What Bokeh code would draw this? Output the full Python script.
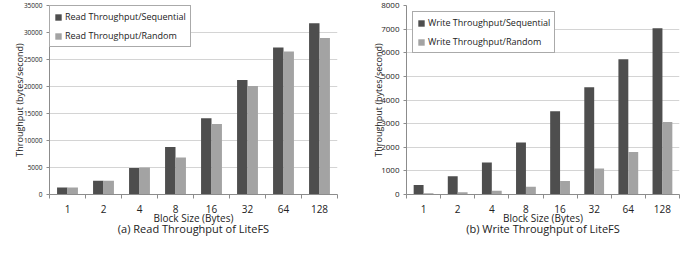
from bokeh.plotting import figure
from bokeh.models import ColumnDataSource, FixedTicker, LinearAxis, Legend, LegendItem
from bokeh.layouts import row
from bokeh.embed import file_html
from bokeh.resources import INLINE

block_sizes = ["1", "2", "4", "8", "16", "32", "64", "128"]
read_seq = [1300, 2550, 4900, 8800, 14100, 21200, 27200, 31700]
read_rand = [1300, 2550, 5000, 6850, 13050, 20100, 26500, 29000]
write_seq = [400, 770, 1350, 2200, 3520, 4540, 5730, 7040]
write_rand = [50, 90, 160, 330, 570, 1100, 1800, 3070]

DARK = "#4e4e4e"
LIGHT = "#a3a3a3"
FONT = "Open Sans"


def make_chart(seq, rand, ymax, ystep, width, left_border, names, caption,
               ylab_size, tick_size, ylab_standoff, leg_margin):
    n = len(block_sizes)
    centers = [i + 0.5 for i in range(n)]
    src = ColumnDataSource(dict(
        xs=[c - 0.145 for c in centers],
        xr=[c + 0.145 for c in centers],
        seq=seq, rand=rand))
    p = figure(width=width, height=238, x_range=(0, n), y_range=(0, ymax),
               output_backend="svg", toolbar_location=None,
               min_border_left=left_border, min_border_right=1,
               min_border_top=5, min_border_bottom=0)
    p.outline_line_color = None
    r1 = p.vbar(x="xs", top="seq", width=0.29, source=src, fill_color=DARK, line_color=None)
    r2 = p.vbar(x="xr", top="rand", width=0.29, source=src, fill_color=LIGHT, line_color=None)

    p.xgrid.visible = False
    p.ygrid.grid_line_color = "#d4d4d4"
    p.ygrid.grid_line_width = 1
    p.yaxis.ticker = FixedTicker(ticks=list(range(0, ymax + 1, ystep)))
    p.xaxis.ticker = FixedTicker(ticks=centers, minor_ticks=list(range(0, n + 1)))
    p.xaxis.major_label_overrides = {c: lab for c, lab in zip(centers, block_sizes)}

    for ax in (p.xaxis[0], p.yaxis[0]):
        ax.axis_line_color = "#8c8c8c"
        ax.major_tick_line_color = "#8c8c8c"
        ax.minor_tick_line_color = "#8c8c8c"
        ax.major_label_text_font = FONT
        ax.axis_label_text_font = FONT
        ax.axis_label_text_font_style = "normal"
        ax.major_label_text_color = "#222222"
        ax.axis_label_text_color = "#222222"
    p.xaxis.major_tick_out = 0
    p.xaxis.major_tick_in = 0
    p.xaxis.minor_tick_out = 4
    p.xaxis.minor_tick_in = 0
    p.xaxis.major_label_text_font_size = "10px"
    p.xaxis.major_label_standoff = 6
    p.xaxis.axis_label = "Block Size (Bytes)"
    p.xaxis.axis_label_text_font_size = "10px"
    p.xaxis.axis_label_standoff = -5

    p.yaxis.major_tick_out = 3
    p.yaxis.major_tick_in = 0
    p.yaxis.minor_tick_out = 0
    p.yaxis.minor_tick_in = 0
    p.yaxis.major_label_text_font_size = tick_size
    p.yaxis.major_label_standoff = 4
    p.yaxis.axis_label = "Throughput (bytes/second)"
    p.yaxis.axis_label_text_font_size = ylab_size
    p.yaxis.axis_label_standoff = ylab_standoff

    # caption drawn as the label of a bare extra axis below the chart
    cap = LinearAxis(ticker=FixedTicker(ticks=[]), axis_label=caption)
    cap.axis_line_color = None
    cap.major_tick_line_color = None
    cap.minor_tick_line_color = None
    cap.major_label_text_font_size = "1px"
    cap.major_label_standoff = 0
    cap.major_tick_out = 0
    cap.minor_tick_out = 0
    cap.axis_label_standoff = -7
    cap.axis_label_text_font = FONT
    cap.axis_label_text_font_size = "11px"
    cap.axis_label_text_font_style = "normal"
    cap.axis_label_text_color = "#222222"
    p.add_layout(cap, "below")

    legend = Legend(items=[LegendItem(label=names[0], renderers=[r1]),
                           LegendItem(label=names[1], renderers=[r2])],
                    location="top_left")
    legend.label_text_font = FONT
    legend.label_text_font_size = "9px"
    legend.label_text_color = "#222222"
    legend.glyph_width = 8
    legend.glyph_height = 8
    legend.label_standoff = 3
    legend.spacing = 6
    legend.padding = 4
    legend.margin = leg_margin
    legend.label_height = 10
    legend.border_line_color = "#555555"
    legend.border_line_width = 1
    legend.background_fill_alpha = 1
    p.add_layout(legend)
    return p


left = make_chart(read_seq, read_rand, 35000, 5000, 338, 49,
                  ["Read Throughput/Sequential", "Read Throughput/Random"],
                  "(a) Read Throughput of LiteFS", "9px", "6.5px", -5, 0)

right = make_chart(write_seq, write_rand, 8000, 1000, 342, 68,
                   ["Write Throughput/Sequential", "Write Throughput/Random"],
                   "(b) Write Throughput of LiteFS", "9px", "8px", -7, 6)

layout = row(left, right, spacing=0)
open("out.html", "w").write(file_html(layout, INLINE))
